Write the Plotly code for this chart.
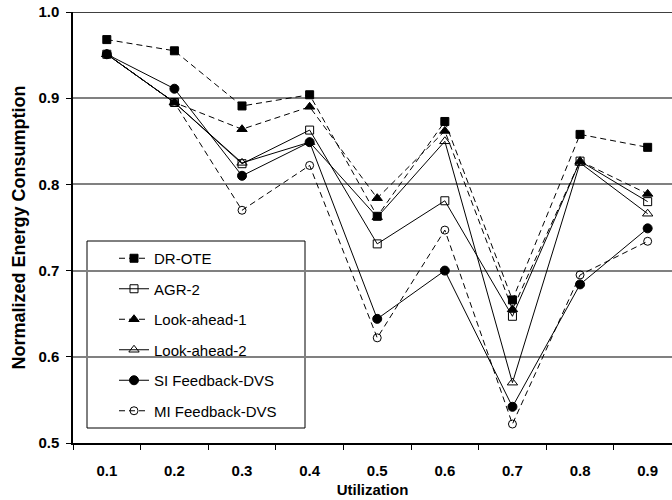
import plotly.graph_objects as go

# Utilization levels (x categories)
utilization = ["0.1", "0.2", "0.3", "0.4", "0.5", "0.6", "0.7", "0.8", "0.9"]

# Normalized energy consumption per scheme
dr_ote = [0.968, 0.955, 0.891, 0.904, 0.763, 0.873, 0.666, 0.858, 0.843]
agr_2 = [0.951, 0.895, 0.824, 0.863, 0.731, 0.781, 0.647, 0.827, 0.780]
look_ahead_1 = [0.951, 0.895, 0.864, 0.890, 0.784, 0.862, 0.655, 0.827, 0.789]
look_ahead_2 = [0.951, 0.895, 0.825, 0.849, 0.762, 0.850, 0.570, 0.825, 0.766]
si_feedback = [0.951, 0.911, 0.810, 0.849, 0.644, 0.700, 0.542, 0.684, 0.749]
mi_feedback = [0.951, 0.895, 0.770, 0.822, 0.622, 0.747, 0.522, 0.695, 0.734]

y_ticks = [0.5, 0.6, 0.7, 0.8, 0.9, 1.0]

FONT = "Arial, Liberation Sans, sans-serif"
DASH = "6px,4px"

series = [
    ("DR-OTE", dr_ote, "square", 8, DASH),
    ("AGR-2", agr_2, "square-open", 8, "solid"),
    ("Look-ahead-1", look_ahead_1, "triangle-up", 9, DASH),
    ("Look-ahead-2", look_ahead_2, "triangle-up-open", 9, "solid"),
    ("SI Feedback-DVS", si_feedback, "circle", 9, "solid"),
    ("MI Feedback-DVS", mi_feedback, "circle-open", 8, DASH),
]

fig = go.Figure()
for i, (name, vals, sym, size, dash) in enumerate(series):
    fig.add_trace(go.Scatter(
        x=utilization, y=vals, name=name, mode="lines+markers",
        legendgroup=f"g{i}",
        line=dict(color="black", width=1, dash=dash),
        marker=dict(symbol=sym, size=size, color="black",
                    line=dict(color="black", width=1)),
    ))

fig.update_layout(
    width=672, height=500,
    margin=dict(l=73, r=0, t=12, b=57),
    paper_bgcolor="white", plot_bgcolor="white",
    font=dict(family=FONT, color="black"),
    showlegend=True,
    legend=dict(
        x=(114 - 73) / 599, xanchor="left",
        y=(443 - 242) / 431, yanchor="top",
        bgcolor="rgba(0,0,0,0)", borderwidth=0,
        font=dict(family=FONT, size=15, color="black"),
        tracegroupgap=8,
    ),
    xaxis=dict(
        type="category", range=[-0.5, 8.36],
        tickson="boundaries", ticks="outside", ticklen=5,
        tickcolor="black", tickwidth=1,
        showline=True, linecolor="black", linewidth=1.5,
        showgrid=False, zeroline=False,
        tickfont=dict(family=FONT, size=15, weight="bold"),
        ticklabelstandoff=13,
        title=dict(text="Utilization", standoff=7,
                   font=dict(family=FONT, size=15, weight="bold")),
    ),
    yaxis=dict(
        range=[0.5, 1.0], tickvals=y_ticks, tickformat=".1f",
        ticks="outside", ticklen=5, tickcolor="black", tickwidth=1,
        showline=True, linecolor="black", linewidth=1.5,
        showgrid=True, gridcolor="#808080", gridwidth=1.5,
        zeroline=False,
        tickfont=dict(family=FONT, size=15, weight="bold"),
        ticklabelstandoff=4,
        title=dict(text="Normalized Energy Consumption", standoff=8,
                   font=dict(family=FONT, size=18, weight="bold")),
    ),
    shapes=[
        # top border of the plotting area
        dict(type="line", xref="paper", yref="y", x0=0, x1=1, y0=1.0, y1=1.0,
             line=dict(color="black", width=1.5), layer="above"),
        # legend frame
        dict(type="rect", xref="paper", yref="paper",
             x0=(87 - 73) / 599, x1=(305 - 73) / 599,
             y0=(443 - 428) / 431, y1=(443 - 241) / 431,
             line=dict(color="black", width=1), fillcolor="white",
             layer="between"),
    ],
)

fig.write_html("out.html")
